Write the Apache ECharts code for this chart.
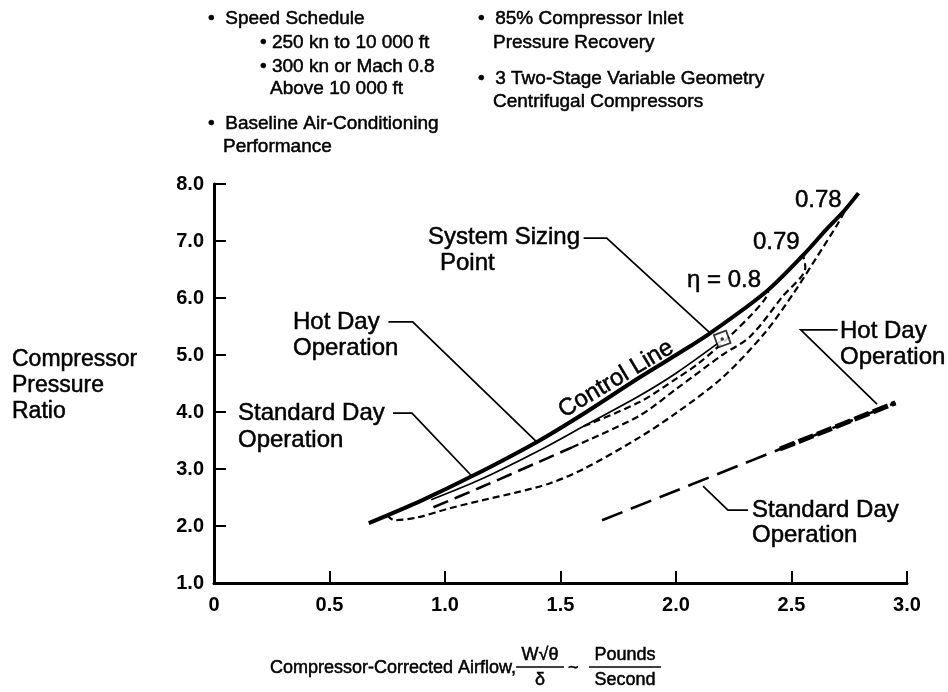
<!DOCTYPE html>
<html>
<head>
<meta charset="utf-8">
<script src="https://cdn.jsdelivr.net/npm/echarts@6/dist/echarts.min.js"></script>
<style>
  html, body { margin: 0; padding: 0; background: #fff; }
  #chart { width: 948px; height: 692px; }
</style>
</head>
<body>
<div id="chart"></div>
<script>
// Axis ticks and their printed labels
const xTickValues = [0, 0.5, 1.0, 1.5, 2.0, 2.5, 3.0];
const xTickLabels = ['0', '0.5', '1.0', '1.5', '2.0', '2.5', '3.0'];
const yTickValues = [1, 2, 3, 4, 5, 6, 7, 8];
const yTickLabels = ['1.0', '2.0', '3.0', '4.0', '5.0', '6.0', '7.0', '8.0'];

// Airflow (lb/s) vs pressure ratio
const controlLine = [[0.67, 2.05], [0.9, 2.45], [1.12, 2.88], [1.4, 3.48], [1.6, 3.97], [1.84, 4.60],
  [2.0, 5.0], [2.15, 5.39], [2.39, 6.11], [2.55, 6.75], [2.65, 7.2], [2.73, 7.54], [2.79, 7.84]];
const hotDayOperation = [[0.94, 2.46], [1.15, 2.81], [1.41, 3.33], [1.6, 3.75], [1.84, 4.28], [2.0, 4.68], [2.2, 5.26]];
const standardDayOperation = [[0.95, 2.33], [1.15, 2.67], [1.41, 3.13], [1.55, 3.38]];
const eta080 = [[1.6, 3.75], [1.84, 4.17], [2.0, 4.58], [2.1, 4.86], [2.23, 5.32], [2.33, 5.72], [2.385, 5.98], [2.40, 6.11]];
const eta079 = [[1.55, 3.38], [1.84, 3.93], [2.0, 4.40], [2.2, 5.0], [2.32, 5.32], [2.46, 6.02], [2.56, 6.54], [2.55, 6.75]];
const eta078 = [[0.75, 2.19], [0.78, 2.10], [0.88, 2.15], [1.02, 2.31], [1.16, 2.45], [1.31, 2.59], [1.455, 2.75],
  [1.6, 3.0], [1.84, 3.55], [2.0, 3.98], [2.2, 4.6], [2.385, 5.39], [2.51, 6.09], [2.61, 6.72], [2.70, 7.3], [2.73, 7.52]];
const standardDayRight = [[1.68, 2.10], [2.95, 4.16]];
const hotDayRight = [[2.45, 3.35], [2.95, 4.16]];
const sizingPoint = [[2.20, 5.28]];

// Leader lines for the callouts (data units)
const leaders = [
  [[1.60, 7.05], [1.70, 7.05], [2.147, 5.39]],
  [[0.755, 5.58], [0.86, 5.58], [1.398, 3.47]],
  [[0.775, 3.98], [0.857, 3.98], [1.12, 2.86]],
  [[2.70, 5.44], [2.54, 5.44], [2.87, 4.14]],
  [[2.312, 2.28], [2.225, 2.28], [2.117, 2.70]]
];

const FONT = '"Liberation Sans", Arial, Helvetica, sans-serif';

function lineSeries(data, width, type, z) {
  return {
    type: 'line', data: data, showSymbol: false, smooth: 0.3, z: z || 3,
    lineStyle: { color: '#000', width: width, type: type || 'solid', cap: 'butt' },
    silent: true
  };
}

function txt(text, x, y, size, align, extra) {
  return Object.assign({
    type: 'text', x: x, y: y, silent: true,
    style: {
      text: text, fill: '#000', stroke: '#000', lineWidth: 0.5,
      font: size + 'px ' + FONT, textAlign: align || 'left', textVerticalAlign: 'middle'
    }
  }, extra || {});
}

const chart = echarts.init(document.getElementById('chart'));
chart.setOption({
  backgroundColor: '#fff',
  animation: false,
  grid: { left: 214, right: 41, top: 184, bottom: 109 },
  xAxis: {
    type: 'value', min: 0, max: 3, interval: 0.5,
    axisLine: { onZero: false, lineStyle: { color: '#000', width: 3 } },
    axisTick: { inside: true, length: 12, lineStyle: { color: '#000', width: 2 } },
    axisLabel: {
      margin: 12, color: '#000', fontSize: 20, fontWeight: 'bold', fontFamily: FONT,
      formatter: function (v) { const i = xTickValues.findIndex(t => Math.abs(t - v) < 1e-6); return i >= 0 ? xTickLabels[i] : ''; }
    },
    splitLine: { show: false }
  },
  yAxis: {
    type: 'value', min: 1, max: 8, interval: 1,
    axisLine: { lineStyle: { color: '#000', width: 3 } },
    axisTick: { inside: true, length: 12, lineStyle: { color: '#000', width: 2 } },
    axisLabel: {
      margin: 10, color: '#000', fontSize: 20, fontWeight: 'bold', fontFamily: FONT,
      formatter: function (v) { const i = yTickValues.findIndex(t => Math.abs(t - v) < 1e-6); return i >= 0 ? yTickLabels[i] : ''; }
    },
    splitLine: { show: false }
  },
  series: [
    lineSeries(eta078, 2.2, [7, 4]),
    lineSeries(eta079, 2.2, [7, 4]),
    lineSeries(eta080, 2.2, [7, 4]),
    lineSeries(standardDayOperation, 2.6, [16, 7]),
    lineSeries(hotDayOperation, 1.7, 'solid'),
    lineSeries(controlLine, 4, 'solid', 5),
    lineSeries(standardDayRight, 2.6, [22, 9]),
    lineSeries(hotDayRight, 5, [16, 4], 4),
    {
      type: 'lines', coordinateSystem: 'cartesian2d', polyline: true, silent: true, z: 6,
      symbol: ['none', 'arrow'], symbolSize: 8,
      lineStyle: { color: '#000', width: 1.7, opacity: 1 },
      data: leaders.map(c => ({ coords: c }))
    },
    {
      type: 'scatter', data: sizingPoint, symbol: 'rect', symbolSize: 13, symbolRotate: 20, z: 7, silent: true,
      itemStyle: { color: '#fff', borderColor: '#000', borderWidth: 1.8 }
    },
    {
      type: 'scatter', data: sizingPoint, symbol: 'circle', symbolSize: 3.5, z: 8, silent: true,
      itemStyle: { color: '#000' }
    }
  ],
  graphic: [
    // notes
    txt('\u2022  Speed Schedule', 208, 19, 19),
    txt('\u2022 250 kn to 10 000 ft', 260, 43, 19),
    txt('\u2022 300 kn or Mach 0.8', 260, 67, 19),
    txt('Above 10 000 ft', 270, 89, 19),
    txt('\u2022  Baseline Air-Conditioning', 208, 124, 19),
    txt('Performance', 223, 147, 19),
    txt('\u2022  85% Compressor Inlet', 478, 19, 19),
    txt('Pressure Recovery', 493, 43, 19),
    txt('\u2022  3 Two-Stage Variable Geometry', 478, 79, 19),
    txt('Centrifugal Compressors', 493, 102, 19),
    // y-axis title
    txt('Compressor', 12, 360, 23),
    txt('Pressure', 12, 386, 23),
    txt('Ratio', 12, 412, 23),
    // callouts
    txt('System Sizing', 428, 237, 24),
    txt('Point', 440, 263, 24),
    txt('Hot Day', 293, 322, 24),
    txt('Operation', 293, 348, 24),
    txt('Standard Day', 238, 413, 24),
    txt('Operation', 238, 440, 24),
    txt('Hot Day', 840, 331, 24),
    txt('Operation', 840, 357, 24),
    txt('Standard Day', 752, 510, 24),
    txt('Operation', 752, 535, 24),
    txt('\u03b7 = 0.8', 687, 280, 24),
    txt('0.79', 753, 242, 24),
    txt('0.78', 795, 200, 24),
    txt('Control Line', 616, 379, 24, 'center', { rotation: 31 * Math.PI / 180 }),
    // x-axis title with fractions
    txt('Compressor-Corrected Airflow,', 270, 668, 18),
    txt('W\u221a\u03b8', 540, 655, 18, 'center'),
    { type: 'line', silent: true, shape: { x1: 516, y1: 667, x2: 564, y2: 667 }, style: { stroke: '#000', lineWidth: 1.5 } },
    txt('\u03b4', 540, 680, 18, 'center'),
    txt('~', 568, 668, 18),
    txt('Pounds', 625, 655, 18, 'center'),
    { type: 'line', silent: true, shape: { x1: 589, y1: 667, x2: 661, y2: 667 }, style: { stroke: '#000', lineWidth: 1.5 } },
    txt('Second', 625, 680, 18, 'center')
  ]
});
</script>
</body>
</html>
